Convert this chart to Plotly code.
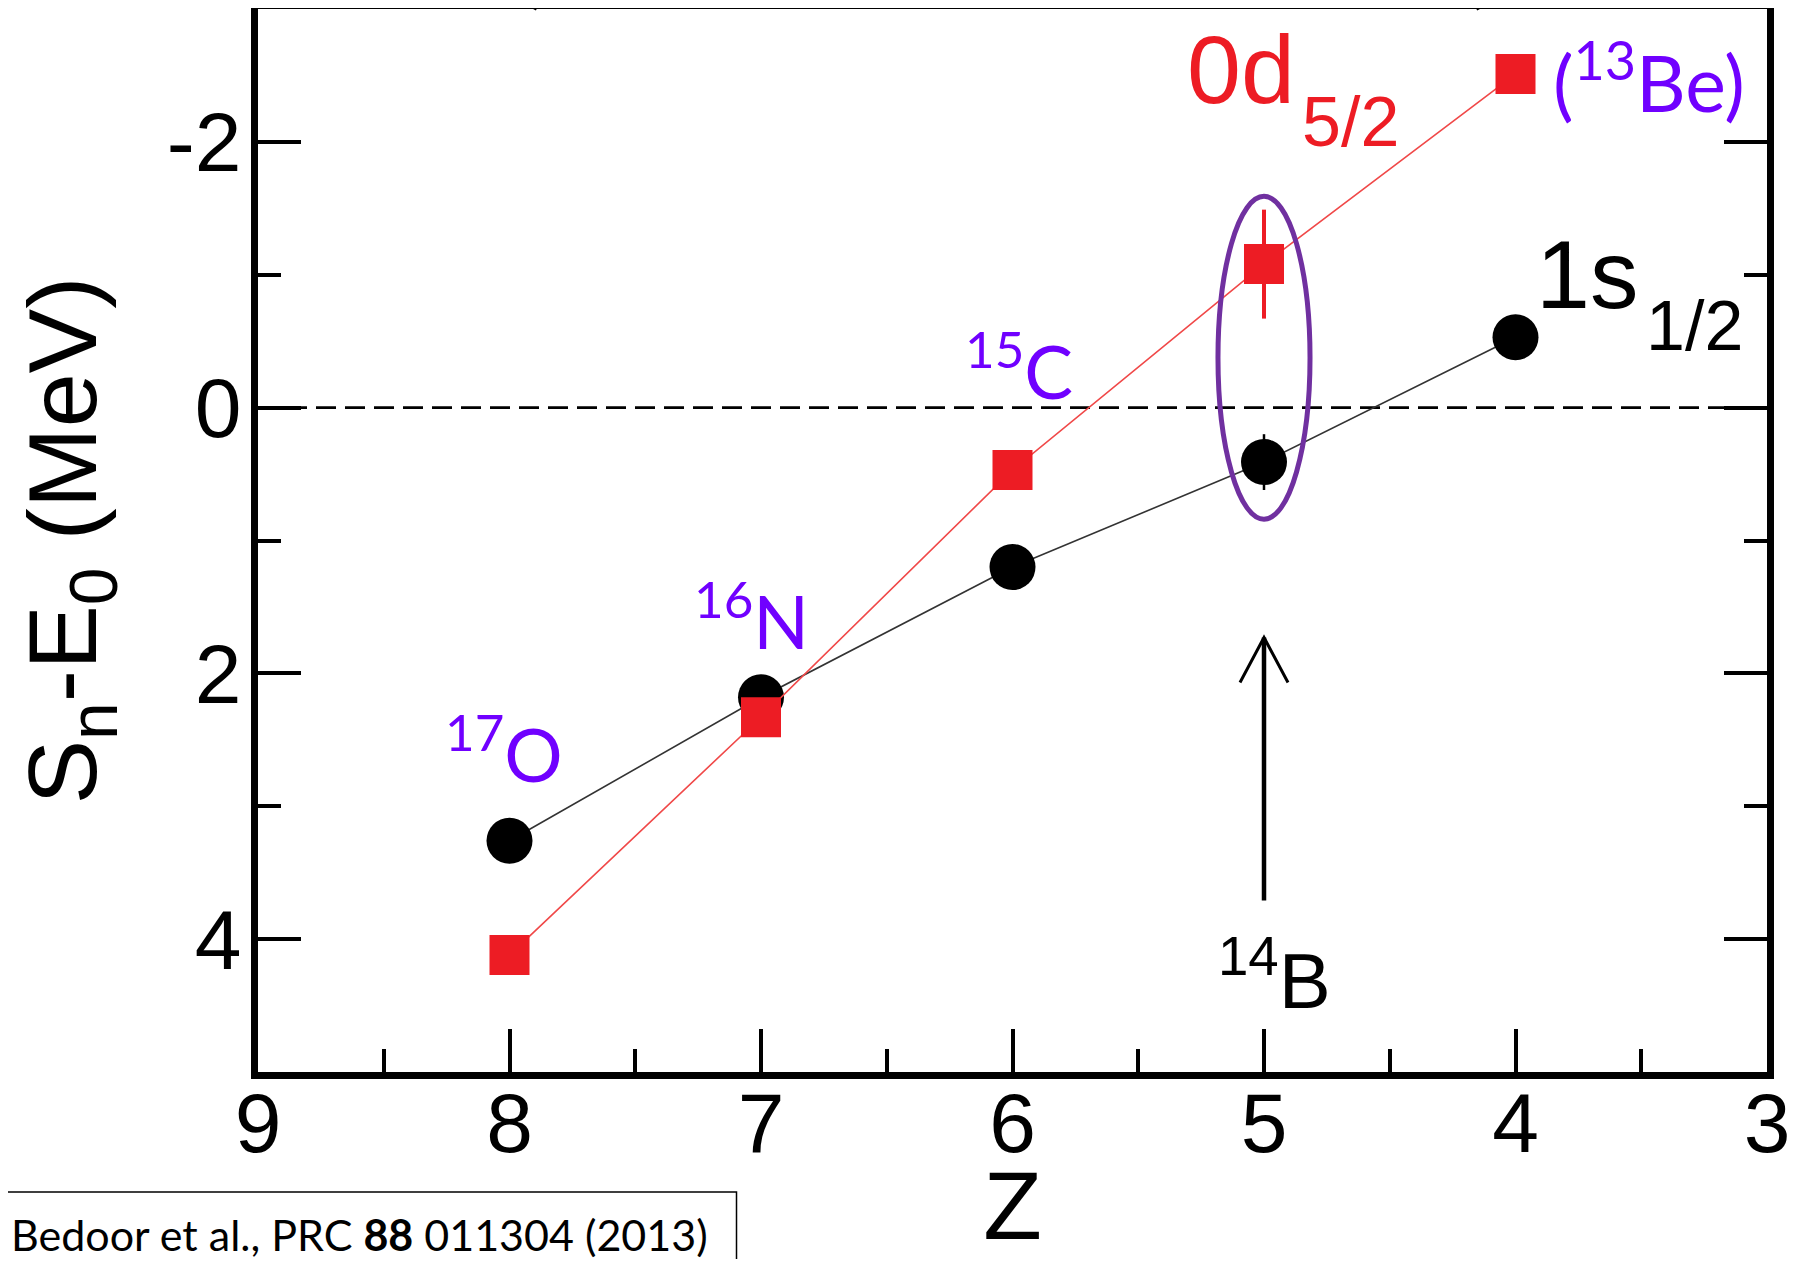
import plotly.graph_objects as go

# ---------------- data ----------------
Z = [8, 7, 6, 5, 4]
s12_val = [3.26, 2.18, 1.20, 0.41, -0.53]      # 1s1/2 (black circles)
s12_err = [0, 0, 0, 0.21, 0]
d52_val = [4.12, 2.33, 0.47, -1.08, -2.51]     # 0d5/2 (red squares)
d52_err = [0, 0, 0, 0.41, 0]

y_tickvals = [-2, 0, 2, 4]
y_ticktext = ["-2", "0", "2", "4"]
x_tickvals = [9, 8, 7, 6, 5, 4, 3]
x_ticktext = ["9", "8", "7", "6", "5", "4", "3"]

iso_labels = ["<sup>17</sup>O", "<sup>16</sup>N", "<sup>15</sup>C", "(<sup>13</sup>Be)"]
iso_x = [8.022, 7.036, 5.976, 3.471]
iso_y = [2.576, 1.575, -0.310, -2.488]
iso_size = [73, 73, 73, 77]

ellipse_Z = 5
ellipse_halfwidth = 0.183
ellipse_top, ellipse_bottom = -1.59, 0.84

arrow_Z = 5
arrow_tail, arrow_tip = 3.71, 1.73

RED = "#ED1C24"
PURPLE_TXT = "#7000FF"
PURPLE_ELL = "#7030A0"
ARIAL = "Liberation Sans, Arial, sans-serif"
CALIBRI = "Lato, Open Sans, sans-serif"

fig = go.Figure()

fig.add_trace(go.Scatter(
    x=Z, y=s12_val, mode="lines+markers",
    line=dict(color="#333333", width=1.6),
    marker=dict(symbol="circle", size=46, color="black"),
    error_y=dict(type="data", array=s12_err, color="black", thickness=2.5, width=0),
    showlegend=False, name="1s1/2"))

fig.add_trace(go.Scatter(
    x=Z, y=d52_val, mode="lines+markers",
    line=dict(color="#F04848", width=1.6),
    marker=dict(symbol="square", size=40, color=RED),
    error_y=dict(type="data", array=d52_err, color=RED, thickness=4, width=0),
    showlegend=False, name="0d5/2"))

shapes = []
# dashed zero line
shapes.append(dict(type="line", xref="paper", x0=0, x1=1, yref="y", y0=0, y1=0,
                   line=dict(color="black", width=2.6, dash="20px,9px"), layer="below"))
# purple ellipse
shapes.append(dict(type="circle", xref="x", yref="y",
                   x0=ellipse_Z + ellipse_halfwidth, x1=ellipse_Z - ellipse_halfwidth,
                   y0=ellipse_top, y1=ellipse_bottom,
                   line=dict(color=PURPLE_ELL, width=5)))
# arrow shaft
shapes.append(dict(type="line", xref="x", yref="y", x0=arrow_Z, x1=arrow_Z,
                   y0=arrow_tail, y1=arrow_tip, line=dict(color="black", width=4.5)))
# arrow head (pixel offsets from the tip)
shapes.append(dict(type="path", xref="x", yref="y", xsizemode="pixel", ysizemode="pixel",
                   xanchor=arrow_Z, yanchor=arrow_tip,
                   path="M -24,-45 L 0,0 L 24,-45", line=dict(color="black", width=3)))
# cut-off brackets at the very top
shapes.append(dict(type="path", xref="paper", yref="paper",
                   path="M 0.1776,1.0094 Q 0.1790,1.003 0.1845,0.9995",
                   line=dict(color="black", width=2.2)))
shapes.append(dict(type="path", xref="paper", yref="paper",
                   path="M 0.8145,1.0094 Q 0.8131,1.003 0.8076,0.9995",
                   line=dict(color="black", width=2.2)))
# citation box (left and bottom edges lie outside the picture)
shapes.append(dict(type="rect", xref="paper", yref="paper",
                   x0=-0.3, x1=0.3171, y0=-0.3, y1=-0.1129,
                   line=dict(color="black", width=1.5)))

annotations = []
for t, xx, yy, fs in zip(iso_labels, iso_x, iso_y, iso_size):
    annotations.append(dict(x=xx, y=yy, xref="x", yref="y", text=t, showarrow=False,
                            xanchor="center", yanchor="middle",
                            font=dict(family=CALIBRI, size=fs, color=PURPLE_TXT)))
# 14B
annotations.append(dict(x=4.96, y=4.276, xref="x", yref="y", text="<sup>14</sup>B",
                        showarrow=False, xanchor="center", yanchor="middle",
                        font=dict(family=ARIAL, size=78, color="black")))
# 0d5/2
annotations.append(dict(x=5.314, y=-2.545, xref="x", yref="y", text="0d", showarrow=False,
                        xanchor="left", yanchor="middle",
                        font=dict(family=ARIAL, size=97, color=RED)))
annotations.append(dict(x=4.857, y=-2.153, xref="x", yref="y", text="5/2", showarrow=False,
                        xanchor="left", yanchor="middle",
                        font=dict(family=ARIAL, size=70, color=RED)))
# 1s1/2
annotations.append(dict(x=3.926, y=-1.002, xref="x", yref="y", text="1s", showarrow=False,
                        xanchor="left", yanchor="middle",
                        font=dict(family=ARIAL, size=97, color="black")))
annotations.append(dict(x=3.489, y=-0.618, xref="x", yref="y", text="1/2", showarrow=False,
                        xanchor="left", yanchor="middle",
                        font=dict(family=ARIAL, size=70, color="black")))
# citation
annotations.append(dict(x=-0.165, y=-0.1524, xref="paper", yref="paper",
                        text="Bedoor et al., PRC <b>88</b> 011304 (2013)", showarrow=False,
                        xanchor="left", yanchor="middle",
                        font=dict(family=CALIBRI, size=43, color="black")))

# the page body has an 8px margin: the figure is sized to fit the 1806x1267 window
fig.update_layout(
    width=1790, height=1251,
    margin=dict(l=250, r=31, t=1, b=187, autoexpand=False),
    plot_bgcolor="white", paper_bgcolor="white",
    shapes=shapes, annotations=annotations,
    xaxis=dict(range=[9, 3], tickvals=x_tickvals, ticktext=x_ticktext,
               ticks="inside", ticklen=43, tickwidth=3.5, tickcolor="black",
               minor=dict(dtick=0.5, ticks="inside", ticklen=23, tickwidth=3.5, tickcolor="black"),
               showline=True, linewidth=6.5, linecolor="black", mirror=True,
               showgrid=False, zeroline=False, automargin=True,
               ticklabelstandoff=-28,
               tickfont=dict(family=ARIAL, size=84, color="black"),
               title=dict(text="Z", font=dict(family=ARIAL, size=96, color="black"), standoff=0)),
    yaxis=dict(range=[5, -3], tickvals=y_tickvals, ticktext=y_ticktext,
               ticks="inside", ticklen=43, tickwidth=3.5, tickcolor="black",
               minor=dict(dtick=1, ticks="inside", ticklen=23, tickwidth=3.5, tickcolor="black"),
               showline=True, linewidth=6.5, linecolor="black", mirror="ticks",
               showgrid=False, zeroline=False, automargin=True,
               ticklabelstandoff=-7,
               tickfont=dict(family=ARIAL, size=84, color="black"),
               title=dict(text="S<sub>n</sub>-E<sub>0</sub> (MeV)",
                          font=dict(family=ARIAL, size=97, color="black"), standoff=40)),
)

fig.write_html("out.html")
